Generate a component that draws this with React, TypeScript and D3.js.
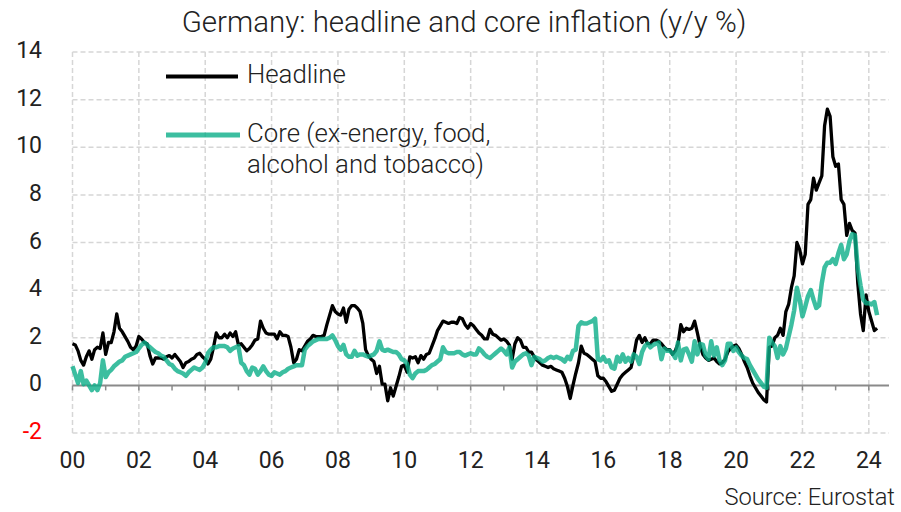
import React from "react";
import * as d3 from "d3";

// Monthly y/y %, Jan 2000 .. Apr 2024
const headline: number[] = [
  1.75, 1.7, 1.45, 1.05, 0.85, 1.2, 1.45, 1.1, 1.5, 1.6, 1.55, 2.2, // 2000
  1.3, 1.8, 1.8, 2.25, 3.0, 2.4, 2.25, 2.05, 1.85, 1.6, 1.5, 1.65, // 2001
  2.05, 1.95, 1.8, 1.75, 1.25, 0.9, 1.15, 1.15, 1.15, 1.1, 1.2, 1.25, // 2002
  1.15, 1.3, 1.15, 1.0, 0.75, 0.95, 1.0, 1.1, 1.15, 1.3, 1.35, 1.2, // 2003
  1.1, 0.9, 1.1, 1.6, 2.2, 2.0, 2.0, 2.15, 2.0, 2.2, 2.05, 2.25, // 2004
  1.7, 1.75, 1.6, 1.45, 1.55, 1.7, 1.9, 1.95, 2.7, 2.4, 2.2, 2.15, // 2005
  2.15, 2.15, 1.95, 2.25, 2.1, 2.1, 2.05, 1.6, 0.95, 1.1, 1.5, 1.45, // 2006
  1.65, 1.85, 1.95, 2.1, 2.05, 2.05, 2.05, 2.1, 2.55, 2.95, 3.35, 3.1, // 2007
  3.0, 2.95, 3.25, 2.65, 3.2, 3.35, 3.35, 3.25, 3.1, 2.6, 1.5, 1.25, // 2008
  1.1, 1.0, 0.5, 0.8, 0.05, 0.05, -0.65, -0.1, -0.45, -0.05, 0.35, 0.8, // 2009
  0.85, 0.55, 1.2, 1.15, 1.2, 0.95, 1.25, 1.1, 1.3, 1.35, 1.65, 1.95, // 2010
  2.3, 2.5, 2.7, 2.65, 2.6, 2.65, 2.65, 2.6, 2.85, 2.8, 2.55, 2.4, // 2011
  2.6, 2.5, 2.35, 2.2, 2.1, 1.95, 1.95, 2.35, 2.15, 2.1, 2.0, 1.9, // 2012
  1.95, 1.85, 1.7, 1.1, 1.75, 2.0, 1.9, 1.6, 1.6, 1.4, 1.4, 1.2, // 2013
  1.05, 0.95, 0.85, 0.8, 0.75, 0.8, 0.7, 0.65, 0.6, 0.55, 0.3, -0.05, // 2014
  -0.55, 0.0, 0.5, 0.95, 1.65, 1.35, 1.3, 1.2, 1.1, 1.0, 0.4, 0.3, // 2015
  0.3, 0.15, -0.05, -0.25, -0.2, 0.05, 0.3, 0.45, 0.55, 0.65, 0.75, 1.25, // 2016
  1.9, 2.1, 1.8, 2.0, 1.75, 1.75, 1.9, 1.9, 1.85, 1.75, 1.6, 1.5, // 2017
  1.5, 1.3, 1.45, 1.75, 2.55, 2.25, 2.4, 2.35, 2.4, 2.7, 2.2, 1.65, // 2018
  1.3, 1.15, 1.05, 1.1, 1.15, 1.0, 0.9, 0.95, 1.1, 1.4, 1.55, 1.65, // 2019
  1.7, 1.55, 1.3, 1.0, 0.75, 0.4, 0.1, -0.1, -0.3, -0.45, -0.6, -0.7, // 2020
  1.6, 1.65, 2.0, 2.1, 2.4, 2.1, 3.1, 3.4, 4.1, 4.6, 6.0, 5.7, // 2021
  5.1, 5.5, 7.6, 7.8, 8.7, 8.2, 8.5, 8.8, 10.9, 11.6, 11.3, 9.6, // 2022
  9.2, 9.3, 7.8, 7.6, 6.3, 6.8, 6.5, 6.4, 4.3, 3.0, 2.3, 3.8, // 2023
  3.1, 2.7, 2.3, 2.4, // 2024
];

const core: number[] = [
  0.8, 0.45, 0.1, 0.6, 0.05, 0.2, 0.0, -0.2, 0.0, -0.2, 0.1, 1.05, // 2000
  0.35, 0.55, 0.65, 0.8, 0.9, 1.0, 1.05, 1.2, 1.25, 1.3, 1.35, 1.4, // 2001
  1.55, 1.7, 1.8, 1.7, 1.6, 1.5, 1.4, 1.35, 1.25, 1.2, 1.05, 0.9, // 2002
  0.85, 0.7, 0.6, 0.55, 0.5, 0.4, 0.55, 0.65, 0.75, 0.7, 0.65, 0.75, // 2003
  0.95, 1.35, 1.5, 1.6, 1.6, 1.65, 1.65, 1.65, 1.6, 1.45, 1.55, 1.6, // 2004
  1.65, 0.95, 0.85, 0.6, 0.45, 0.75, 0.7, 0.45, 0.6, 0.8, 0.6, 0.45, // 2005
  0.4, 0.55, 0.5, 0.45, 0.55, 0.6, 0.7, 0.75, 0.8, 0.85, 0.85, 0.85, // 2006
  1.5, 1.65, 1.75, 1.85, 1.9, 1.95, 1.95, 1.95, 1.95, 2.0, 2.1, 1.9, // 2007
  1.65, 1.5, 1.7, 1.3, 1.2, 1.2, 1.45, 1.25, 1.3, 1.3, 1.25, 1.2, // 2008
  1.25, 1.3, 1.45, 1.85, 1.5, 1.45, 1.5, 1.45, 1.4, 1.4, 1.3, 1.1, // 2009
  1.05, 0.9, 0.45, 0.3, 0.5, 0.6, 0.6, 0.6, 0.65, 0.75, 0.85, 0.9, // 2010
  1.0, 1.1, 1.6, 1.4, 1.35, 1.35, 1.35, 1.4, 1.4, 1.3, 1.25, 1.3, // 2011
  1.35, 1.3, 1.3, 1.55, 1.45, 1.3, 1.2, 1.15, 1.25, 1.35, 1.45, 1.55, // 2012
  1.45, 1.3, 1.6, 0.75, 1.0, 1.1, 1.2, 1.3, 1.35, 1.25, 0.85, 1.2, // 2013
  1.15, 1.1, 1.0, 1.05, 1.15, 1.2, 1.15, 1.2, 1.15, 1.1, 1.0, 1.2, // 2014
  1.1, 1.45, 1.5, 2.5, 2.65, 2.6, 2.6, 2.65, 2.7, 2.8, 1.1, 1.05, // 2015
  1.2, 1.0, 1.05, 0.75, 0.7, 1.2, 1.0, 1.3, 1.0, 1.15, 1.0, 1.3, // 2016
  1.2, 0.9, 1.4, 1.65, 1.75, 1.6, 1.7, 1.75, 1.8, 1.1, 1.55, 1.45, // 2017
  1.45, 1.35, 1.15, 1.8, 1.05, 1.5, 1.55, 1.3, 1.0, 1.85, 1.3, 1.75, // 2018
  1.7, 1.25, 1.1, 1.85, 1.25, 1.6, 1.05, 0.85, 1.05, 1.75, 1.75, 1.45, // 2019
  1.6, 1.4, 1.25, 1.15, 1.1, 0.85, 0.65, 0.45, 0.25, 0.1, -0.05, -0.1, // 2020
  2.0, 1.8, 1.65, 1.15, 1.65, 1.3, 1.55, 2.05, 2.55, 3.15, 4.1, 3.6, // 2021
  2.9, 3.3, 3.75, 4.0, 3.6, 3.25, 3.35, 4.3, 4.95, 5.15, 5.15, 5.3, // 2022
  5.1, 5.55, 5.9, 5.3, 5.5, 6.05, 6.35, 6.3, 4.9, 4.2, 3.6, 3.45, // 2023
  3.45, 3.4, 3.5, 2.95, // 2024
];

const startYear = 2000;
const yTicks = [-2, 0, 2, 4, 6, 8, 10, 12, 14];
const xTickYears = [2000, 2002, 2004, 2006, 2008, 2010, 2012, 2014, 2016, 2018, 2020, 2022, 2024];
const xTickLabels = ["00", "02", "04", "06", "08", "10", "12", "14", "16", "18", "20", "22", "24"];
const minorYears = d3.range(2000, 2025);

const title = "Germany: headline and core inflation (y/y %)";
const legendHeadline = "Headline";
const legendCore1 = "Core (ex-energy, food,";
const legendCore2 = "alcohol and tobacco)";
const source = "Source: Eurostat";

const FONT = "Roboto, 'Open Sans', 'DejaVu Sans', sans-serif";
const TEAL = "rgb(11,174,136)";

export default function App() {
  const W = 901;
  const H = 512;
  const left = 72.5;
  const right = 889;
  const top = 52;
  const bottom = 433;

  const x = d3.scaleLinear().domain([2000, 2000 + 295.3 / 12]).range([left, right]);
  const y = d3.scaleLinear().domain([-2, 14]).range([bottom, top]);

  const lineGen = d3
    .line<number>()
    .x((_, i) => x(startYear + i / 12))
    .y((d) => y(d));

  const gridColor = "#d6d6d6";

  return (
    <svg
      width={W}
      height={H}
      style={{ position: "absolute", left: 0, top: 0, background: "#fff" }}
      fontFamily={FONT}
    >
      <rect x={0} y={0} width={W} height={H} fill="#fff" />
      {yTicks
        .filter((t) => t !== 0)
        .map((t) => (
          <line
            key={"h" + t}
            x1={left}
            x2={right}
            y1={y(t)}
            y2={y(t)}
            stroke={gridColor}
            strokeWidth={1.5}
            strokeDasharray="5,3"
          />
        ))}
      {xTickYears.map((yr) => (
        <line
          key={"v" + yr}
          x1={x(yr)}
          x2={x(yr)}
          y1={top}
          y2={bottom}
          stroke={gridColor}
          strokeWidth={1.5}
          strokeDasharray="5,3"
        />
      ))}
      <line x1={left} x2={right} y1={y(0)} y2={y(0)} stroke="#8a8a8a" strokeWidth={2} />
      {minorYears.map((yr) => (
        <line
          key={"t" + yr}
          x1={x(yr)}
          x2={x(yr)}
          y1={y(0)}
          y2={y(0) + 5}
          stroke="#8a8a8a"
          strokeWidth={1.5}
        />
      ))}
      {yTicks.map((t) => (
        <text
          key={"yl" + t}
          x={42}
          y={y(t) + 6}
          textAnchor="end"
          fontSize={23}
          fill={t < 0 ? "#ff0000" : "#222"}
        >
          {t}
        </text>
      ))}
      {xTickYears.map((yr, i) => (
        <text key={"xl" + yr} x={x(yr)} y={468} textAnchor="middle" fontSize={23} fill="#222">
          {xTickLabels[i]}
        </text>
      ))}
      <path d={lineGen(headline) || ""} fill="none" stroke="#000" strokeWidth={3.3} strokeLinejoin="round" />
      <path
        d={lineGen(core) || ""}
        fill="none"
        stroke={TEAL}
        strokeOpacity={0.8}
        strokeWidth={4.5}
        strokeLinejoin="round"
      />
      <text x={464} y={32} textAnchor="middle" fontSize={29.5} fontWeight={300} fill="#222">
        {title}
      </text>
      <line x1={166} x2={238} y1={76.5} y2={76.5} stroke="#000" strokeWidth={4} />
      <text x={247} y={83} fontSize={25.8} fontWeight={300} fill="#222">
        {legendHeadline}
      </text>
      <line x1={166} x2={240} y1={135} y2={135} stroke={TEAL} strokeOpacity={0.8} strokeWidth={5} />
      <text x={247} y={142} fontSize={25.8} fontWeight={300} fill="#222">
        {legendCore1}
      </text>
      <text x={247} y={173} fontSize={25.8} fontWeight={300} fill="#222">
        {legendCore2}
      </text>
      <text x={895} y={505} textAnchor="end" fontSize={23.7} fontWeight={300} fill="#222">
        {source}
      </text>
    </svg>
  );
}
